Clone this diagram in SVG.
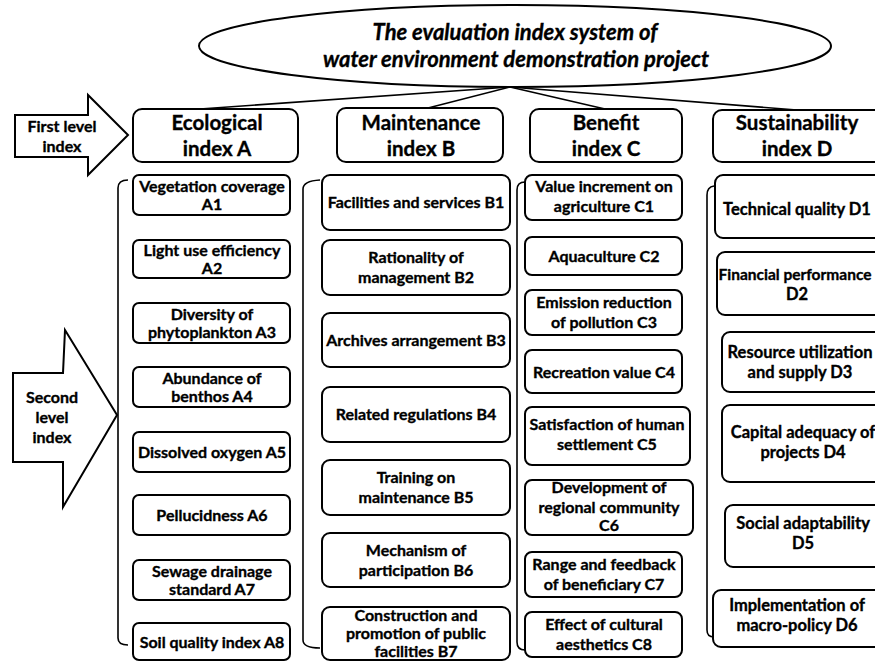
<svg xmlns="http://www.w3.org/2000/svg" width="875" height="661" viewBox="0 0 875 661">
<style>
  text { font-family: Lato, "Open Sans", "Liberation Sans", sans-serif; font-weight: bold; fill: #000; stroke: #000; stroke-width: 0.35; text-anchor: middle; }
  .box { fill: #fff; stroke: #000; stroke-width: 2; }
  .l1 { font-size: 20.5px; }
  .ta { font-size: 16px; }
  .tb { font-size: 16px; }
  .tc { font-size: 16px; }
  .td { font-size: 16.5px; }
  .lab { font-size: 16px; }
  .title { font-size: 22px; font-style: italic; }
  .conn { fill: none; stroke: #000; stroke-width: 1.6; }
  .brk { fill: none; stroke: #000; stroke-width: 1.6; }
  .arrow { fill: #fff; stroke: #000; stroke-width: 2; stroke-linejoin: miter; }
</style>
<rect width="875" height="661" fill="#fff"/>

<g id="connectors">
  <line class="conn" x1="510" y1="87" x2="200" y2="109"/>
  <line class="conn" x1="510" y1="87" x2="428" y2="108"/>
  <line class="conn" x1="510" y1="87" x2="605" y2="109"/>
  <line class="conn" x1="510" y1="87" x2="797" y2="110"/>
</g>

<g id="root">
  <ellipse cx="515" cy="46" rx="316" ry="41" fill="#fff" stroke="#000" stroke-width="2"/>
  <text class="title" x="515" y="40">The evaluation index system of</text>
  <text class="title" x="516" y="67">water environment demonstration project</text>
</g>

<g id="first-level-arrow">
  <path class="arrow" d="M15,115 L88,115 L88,95 L128,135 L88,175 L88,157 L15,157 Z"/>
  <text class="lab" x="62" y="132">First level</text>
  <text class="lab" x="62" y="152">index</text>
</g>

<g id="second-level-arrow">
  <path class="arrow" d="M13,373 L63,373 L65,330 L117,415 L63,507 L63,462 L13,462 Z"/>
  <text class="lab" x="52" y="403">Second</text>
  <text class="lab" x="52" y="423">level</text>
  <text class="lab" x="52" y="443">index</text>
</g>

<g id="brackets">
  <path class="brk" d="M128,180 Q118,180 118,188 L118,638 Q118,645 128,645"/>
  <path class="brk" d="M320,180 Q303,181 303,189 L303,640 Q303,648 320,648"/>
  <path class="brk" d="M525,182 Q517,182 517,190 L517,642 Q517,650 525,650"/>
  <path class="brk" d="M714,186 Q707,187 707,195 L707,630 Q707,637 714,637"/>
</g>

<g id="A">
  <rect class="box" x="133" y="109" width="165" height="53" rx="9"/>
  <text class="l1" x="217" y="130">Ecological</text>
  <text class="l1" x="217" y="156">index A</text>
</g>
<g id="B">
  <rect class="box" x="337" y="108" width="166" height="54" rx="9"/>
  <text class="l1" x="421" y="130">Maintenance</text>
  <text class="l1" x="421" y="156">index B</text>
</g>
<g id="C">
  <rect class="box" x="530" y="109" width="152" height="53" rx="9"/>
  <text class="l1" x="606" y="130">Benefit</text>
  <text class="l1" x="606" y="156">index C</text>
</g>
<g id="D">
  <rect class="box" x="713" y="110" width="175" height="52" rx="9"/>
  <text class="l1" x="797" y="130">Sustainability</text>
  <text class="l1" x="797" y="156">index D</text>
</g>

<g id="A1"><rect class="box" x="133" y="175" width="157" height="40" rx="6"/>
  <text class="ta" x="212" y="192">Vegetation coverage</text><text class="ta" x="212" y="210">A1</text></g>
<g id="A2"><rect class="box" x="133" y="240" width="157" height="38" rx="6"/>
  <text class="ta" x="212" y="256">Light use efficiency</text><text class="ta" x="212" y="274">A2</text></g>
<g id="A3"><rect class="box" x="133" y="303" width="157" height="40" rx="6"/>
  <text class="ta" x="212" y="320">Diversity of</text><text class="ta" x="212" y="338">phytoplankton A3</text></g>
<g id="A4"><rect class="box" x="133" y="367" width="157" height="40" rx="6"/>
  <text class="ta" x="212" y="384">Abundance of</text><text class="ta" x="212" y="402">benthos A4</text></g>
<g id="A5"><rect class="box" x="133" y="432" width="157" height="40" rx="6"/>
  <text class="ta" x="212" y="458">Dissolved oxygen A5</text></g>
<g id="A6"><rect class="box" x="133" y="495" width="157" height="40" rx="6"/>
  <text class="ta" x="212" y="521">Pellucidness A6</text></g>
<g id="A7"><rect class="box" x="133" y="560" width="157" height="40" rx="6"/>
  <text class="ta" x="212" y="577">Sewage drainage</text><text class="ta" x="212" y="595">standard A7</text></g>
<g id="A8"><rect class="box" x="133" y="623" width="157" height="37" rx="6"/>
  <text class="ta" x="212" y="648">Soil quality index A8</text></g>

<g id="B1"><rect class="box" x="322" y="175" width="188" height="55" rx="8"/>
  <text class="tb" x="416" y="208">Facilities and services B1</text></g>
<g id="B2"><rect class="box" x="322" y="240" width="188" height="55" rx="8"/>
  <text class="tb" x="416" y="263">Rationality of</text><text class="tb" x="416" y="283">management B2</text></g>
<g id="B3"><rect class="box" x="322" y="313" width="188" height="54" rx="8"/>
  <text class="tb" x="416" y="346">Archives arrangement B3</text></g>
<g id="B4"><rect class="box" x="322" y="387" width="188" height="55" rx="8"/>
  <text class="tb" x="416" y="420">Related regulations B4</text></g>
<g id="B5"><rect class="box" x="322" y="460" width="188" height="55" rx="8"/>
  <text class="tb" x="416" y="483">Training on</text><text class="tb" x="416" y="503">maintenance B5</text></g>
<g id="B6"><rect class="box" x="322" y="533" width="188" height="54" rx="8"/>
  <text class="tb" x="416" y="556">Mechanism of</text><text class="tb" x="416" y="576">participation B6</text></g>
<g id="B7"><rect class="box" x="322" y="607" width="188" height="53" rx="8"/>
  <text class="tb" x="416" y="621">Construction and</text><text class="tb" x="416" y="639">promotion of public</text><text class="tb" x="416" y="657">facilities B7</text></g>

<g id="C1"><rect class="box" x="525" y="175" width="157" height="45" rx="7"/>
  <text class="tc" x="604" y="192">Value increment on</text><text class="tc" x="604" y="212">agriculture C1</text></g>
<g id="C2"><rect class="box" x="525" y="237" width="157" height="38" rx="7"/>
  <text class="tc" x="604" y="262">Aquaculture C2</text></g>
<g id="C3"><rect class="box" x="525" y="290" width="157" height="45" rx="7"/>
  <text class="tc" x="604" y="308">Emission reduction</text><text class="tc" x="604" y="328">of pollution C3</text></g>
<g id="C4"><rect class="box" x="525" y="350" width="157" height="43" rx="7"/>
  <text class="tc" x="604" y="378">Recreation value C4</text></g>
<g id="C5"><rect class="box" x="525" y="407" width="165" height="58" rx="7"/>
  <text class="tc" x="607" y="430">Satisfaction of human</text><text class="tc" x="607" y="450">settlement C5</text></g>
<g id="C6"><rect class="box" x="525" y="480" width="168" height="55" rx="7"/>
  <text class="tc" x="609" y="493">Development of</text><text class="tc" x="609" y="513">regional community</text><text class="tc" x="609" y="531">C6</text></g>
<g id="C7"><rect class="box" x="525" y="552" width="157" height="45" rx="7"/>
  <text class="tc" x="604" y="570">Range and feedback</text><text class="tc" x="604" y="590">of beneficiary C7</text></g>
<g id="C8"><rect class="box" x="525" y="612" width="157" height="45" rx="7"/>
  <text class="tc" x="604" y="630">Effect of cultural</text><text class="tc" x="604" y="650">aesthetics C8</text></g>

<g id="D1"><rect class="box" x="715" y="175" width="175" height="63" rx="8"/>
  <text class="td" x="797" y="215">Technical quality D1</text></g>
<g id="D2"><rect class="box" x="717" y="252" width="175" height="63" rx="8"/>
  <text class="td" x="795" y="280" style="font-size:15.5px">Financial performance</text><text class="td" x="797" y="300">D2</text></g>
<g id="D3"><rect class="box" x="722" y="332" width="175" height="60" rx="8"/>
  <text class="td" x="800" y="358">Resource utilization</text><text class="td" x="800" y="378">and supply D3</text></g>
<g id="D4"><rect class="box" x="722" y="405" width="175" height="77" rx="8"/>
  <text class="td" x="803" y="438">Capital adequacy of</text><text class="td" x="803" y="458">projects D4</text></g>
<g id="D5"><rect class="box" x="725" y="505" width="175" height="62" rx="8"/>
  <text class="td" x="803" y="529">Social adaptability</text><text class="td" x="803" y="549">D5</text></g>
<g id="D6"><rect class="box" x="713" y="590" width="175" height="57" rx="8"/>
  <text class="td" x="797" y="611">Implementation of</text><text class="td" x="797" y="631">macro-policy D6</text></g>
</svg>
